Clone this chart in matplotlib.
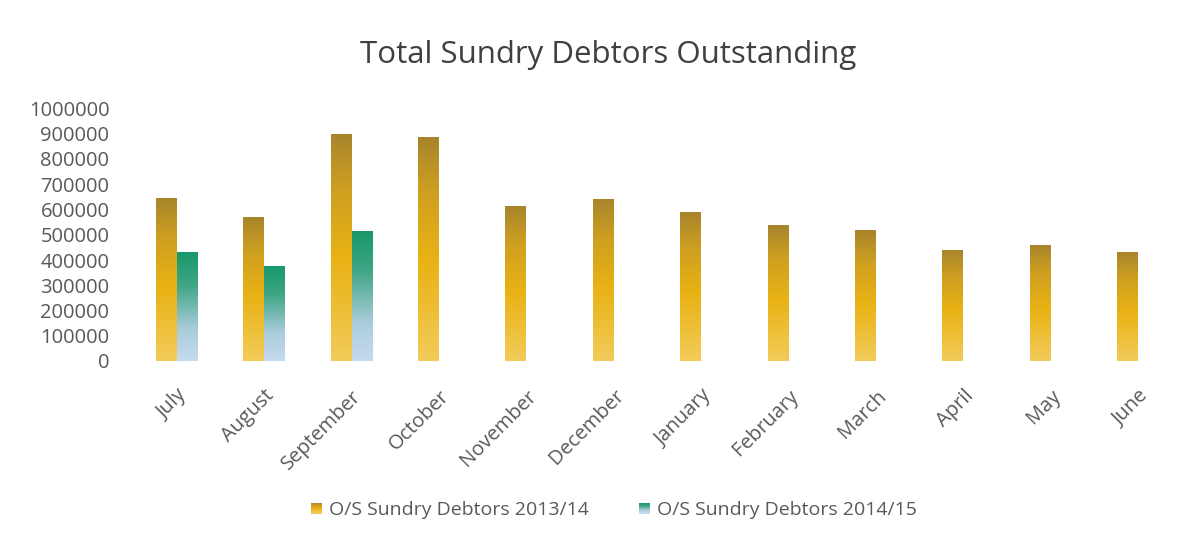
import numpy as np
import matplotlib
matplotlib.use("Agg")
import matplotlib.pyplot as plt
from matplotlib.colors import LinearSegmentedColormap
from matplotlib.legend_handler import HandlerBase
from matplotlib.patches import Rectangle, Patch

months = ["July", "August", "September", "October", "November", "December",
          "January", "February", "March", "April", "May", "June"]
debtors_2013_14 = [644000, 569000, 899000, 885000, 611000, 638000,
                   587000, 537000, 515000, 436000, 457000, 430000]
debtors_2014_15 = [429000, 376000, 511000]
series_labels = ["O/S Sundry Debtors 2013/14", "O/S Sundry Debtors 2014/15"]
yticks = list(range(0, 1000001, 100000))

plt.rcParams['font.family'] = ['Open Sans', 'DejaVu Sans']

gold_cmap = LinearSegmentedColormap.from_list(
    "gold", [(0.0, "#F2CC5A"), (0.45, "#E9B214"), (0.75, "#CFA020"), (1.0, "#A8852C")])
green_cmap = LinearSegmentedColormap.from_list(
    "green", [(0.0, "#C6DAF0"), (0.3, "#A9CCDA"), (0.7, "#3FA585"), (1.0, "#17996A")])

fig = plt.figure(figsize=(11.98, 5.41), dpi=100)
ax = fig.add_axes([133/1198, 1-361/541, (1182-133)/1198, (361-108.5)/541])

x = np.arange(len(months))
w = 0.24
bars1 = ax.bar(x[:len(debtors_2013_14)] - w/2, debtors_2013_14, width=w, color="none")
bars2 = ax.bar(x[:len(debtors_2014_15)] + w/2, debtors_2014_15, width=w, color="none")

grad = np.linspace(0, 1, 256).reshape(-1, 1)
for bars, cmap in ((bars1, gold_cmap), (bars2, green_cmap)):
    for b in bars:
        x0, y0 = b.get_x(), b.get_y()
        ax.imshow(grad, cmap=cmap, origin="lower", aspect="auto",
                  extent=(x0, x0 + b.get_width(), y0, y0 + b.get_height()),
                  zorder=2, interpolation="bilinear")

ax.set_xlim(-0.5, len(months) - 0.5)
ax.set_ylim(0, 1000000)
ax.set_yticks(yticks)
ax.set_yticklabels([str(t) for t in yticks], fontsize=14.5, color="#595959")
ax.set_xticks(x)
ax.set_xticklabels(months, rotation=45, ha="right", rotation_mode="anchor",
                   fontsize=14.5, color="#595959")
ax.tick_params(length=0)
ax.tick_params(axis="y", pad=17)
ax.tick_params(axis="x", pad=18)
for s in ax.spines.values():
    s.set_visible(False)

fig.text(608/1198, 1-55/541, "Total Sundry Debtors Outstanding", ha="center",
         va="center", fontsize=22.5, color="#404040")


class GradHandler(HandlerBase):
    def __init__(self, cmap):
        super().__init__()
        self.cmap = cmap

    def create_artists(self, legend, orig_handle, xdescent, ydescent, width,
                       height, fontsize, trans):
        n = 10
        side = width
        x0 = width - side
        y0 = (height - side) / 2
        arts = []
        for i in range(n):
            c = self.cmap((i + 0.5) / n)
            r = Rectangle((x0 - xdescent, y0 - ydescent + i * side / n), side, side / n,
                          facecolor=c, edgecolor="none", transform=trans)
            arts.append(r)
        return arts


h1 = Patch(label=series_labels[0])
h2 = Patch(label=series_labels[1])
fig.legend(handles=[h1, h2], labels=series_labels, loc="center",
           bbox_to_anchor=(614/1198, 1-510/541), ncol=2, frameon=False,
           fontsize=14, labelcolor="#595959", handlelength=0.55, handletextpad=0.35,
           columnspacing=2.6,
           handler_map={h1: GradHandler(gold_cmap), h2: GradHandler(green_cmap)})

fig.savefig("out.png", dpi=100, facecolor="white")
